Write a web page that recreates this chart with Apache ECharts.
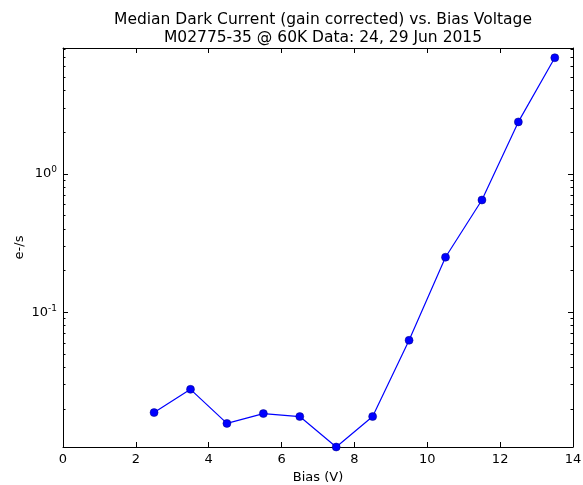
<!DOCTYPE html>
<html>
<head>
<meta charset="utf-8">
<script src="https://cdn.jsdelivr.net/npm/echarts@6/dist/echarts.min.js"></script>
<style>html,body{margin:0;padding:0;background:#fff}#c{width:583px;height:485px}</style>
</head>
<body>
<div id="c"></div>
<script>
const biasV = [2.5, 3.5, 4.5, 5.5, 6.5, 7.5, 8.5, 9.5, 10.5, 11.5, 12.5, 13.5];
const darkCurrent = [0.0188, 0.0277, 0.0157, 0.0185, 0.0176, 0.0106, 0.0176, 0.0627, 0.250, 0.648, 2.38, 6.93];
const xTicks = [0, 2, 4, 6, 8, 10, 12, 14];
const yMajorTicks = [0.1, 1];
const yMinorTicks = [0.02,0.03,0.04,0.05,0.06,0.07,0.08,0.09,0.2,0.3,0.4,0.5,0.6,0.7,0.8,0.9,2,3,4,5,6,7,8];
const titleLines = ['Median Dark Current (gain corrected) vs. Bias Voltage', 'M02775-35 @ 60K Data: 24, 29 Jun 2015'];

const FONT = 'DejaVu Sans';
const chart = echarts.init(document.getElementById('c'), null, {renderer: 'canvas'});
const yMin = 0.0106, yMax = 8.15;
const lineStyle = {color: '#000', width: 1};

function yAxisDef(pos, ticks, len, showLabel, showLine) {
  return {
    type: 'log', logBase: 10, min: yMin, max: yMax, position: pos,
    axisLine: {show: showLine, onZero: false, lineStyle: lineStyle},
    axisTick: {show: true, inside: true, length: len, lineStyle: lineStyle, customValues: ticks},
    axisLabel: {show: showLabel, customValues: ticks, margin: 6, color: '#000', fontFamily: FONT,
      formatter: function (v) { const e = Math.round(Math.log10(v)); return '{b|10}{s|' + e + '}'; },
      rich: {b: {fontSize: 13, fontFamily: FONT, color: '#000'}, s: {fontSize: 9, fontFamily: FONT, color: '#000', padding: [0, 0, 8, 0]}}},
    splitLine: {show: false}, minorTick: {show: false}
  };
}

const yAxes = [
  Object.assign(yAxisDef('left', yMajorTicks, 5, true, true), {name: 'e-/s', nameLocation: 'middle', nameRotate: 90, nameGap: 37, nameMoveOverlap: false, nameTextStyle: {fontSize: 13, fontFamily: FONT, color: '#000'}}),
  yAxisDef('left', yMinorTicks, 2.5, false, false),
  yAxisDef('right', yMajorTicks, 5, false, true),
  yAxisDef('right', yMinorTicks, 2.5, false, false)
];

function xAxisDef(pos, showLabel) {
  return {
    type: 'value', min: xTicks[0], max: xTicks[xTicks.length - 1], interval: xTicks[1] - xTicks[0], position: pos,
    axisLine: {show: true, onZero: false, lineStyle: lineStyle},
    axisTick: {show: true, inside: true, length: 5, lineStyle: lineStyle},
    axisLabel: {show: showLabel, margin: 6, color: '#000', fontSize: 13, fontFamily: FONT},
    splitLine: {show: false}
  };
}
const xAxes = [
  Object.assign(xAxisDef('bottom', true), {name: 'Bias (V)', nameLocation: 'middle', nameGap: 24, nameMoveOverlap: false, nameTextStyle: {fontSize: 13, fontFamily: FONT, color: '#000'}}),
  xAxisDef('top', false)
];

chart.setOption({
  animation: false,
  backgroundColor: '#fff',
  title: {
    text: titleLines.join('\n'), left: 318, top: 6, textAlign: 'center',
    textStyle: {fontSize: 15.5, fontWeight: 'normal', fontFamily: FONT, color: '#000', lineHeight: 18}
  },
  grid: {left: 63, right: 10, top: 48, bottom: 38, containLabel: false, outerBoundsMode: 'none'},
  xAxis: xAxes,
  yAxis: yAxes,
  series: [{
    type: 'line', xAxisIndex: 0, yAxisIndex: 0,
    data: biasV.map((x, i) => [x, darkCurrent[i]]),
    symbol: 'circle', symbolSize: 8, showAllSymbol: true,
    lineStyle: {color: '#0000ff', width: 1.2},
    itemStyle: {color: '#0000ff', borderColor: '#000080', borderWidth: 0.5},
    clip: true
  }]
});
</script>
</body>
</html>
